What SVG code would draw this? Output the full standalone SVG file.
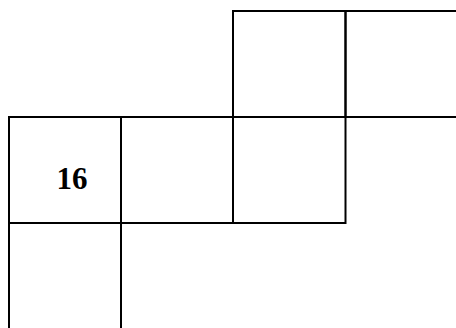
<svg xmlns="http://www.w3.org/2000/svg" width="456" height="328" viewBox="0 0 456 328">
<style>
.c{fill:none;stroke:#000;stroke-width:2}
.t{font-family:"Liberation Serif","Times New Roman",serif;font-weight:bold;font-size:31px;fill:#000}
</style>
<rect width="456" height="328" fill="#fff"/>
<g id="cell-top-1"><rect class="c" x="233" y="11" width="112.5" height="106"/></g>
<g id="cell-top-2"><polyline class="c" points="457,11 345.5,11 345.5,117 457,117"/></g>
<g id="cell-16"><rect class="c" x="9" y="117" width="112" height="106"/><text class="t" x="72" y="188.5" text-anchor="middle">16</text></g>
<g id="cell-mid-2"><rect class="c" x="121" y="117" width="112" height="106"/></g>
<g id="cell-mid-3"><rect class="c" x="233" y="117" width="112.5" height="106"/></g>
<g id="cell-bottom"><polyline class="c" points="9,330 9,223 121,223 121,330"/></g>
</svg>
